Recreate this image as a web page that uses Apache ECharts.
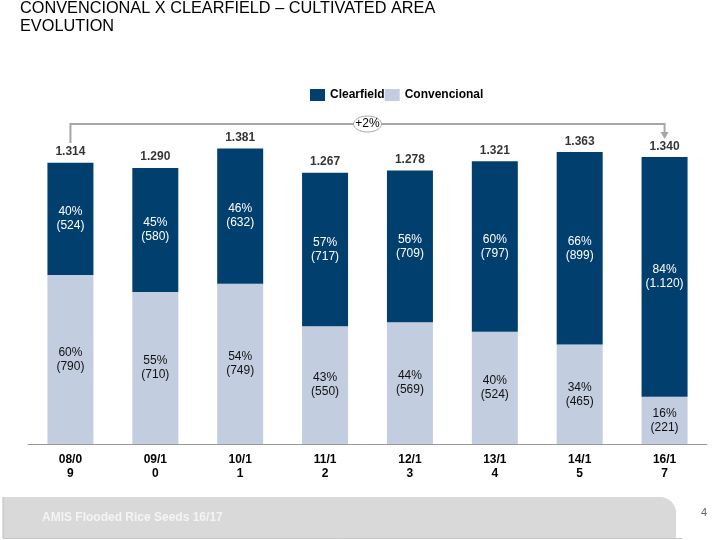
<!DOCTYPE html>
<html><head><meta charset="utf-8">
<script src="https://cdn.jsdelivr.net/npm/echarts@6/dist/echarts.min.js"></script>
<style>html,body{margin:0;padding:0;background:#fff}#c{width:720px;height:540px}</style>
</head><body><div id="c"></div>
<script>
const categories = ['08/09','09/10','10/11','11/12','12/13','13/14','14/15','16/17'];
const clearfield = [524,580,632,717,709,797,899,1120];
const convencional = [790,710,749,550,569,524,465,221];
const clearPct = [40,45,46,57,56,60,66,84];
const convPct = [60,55,54,43,44,40,34,16];
const totals = [1314,1290,1381,1267,1278,1321,1363,1340];
const growthLabel = '+2%';
const titleText = 'CONVENCIONAL X CLEARFIELD – CULTIVATED AREA\nEVOLUTION';
const footerText = 'AMIS Flooded Rice Seeds 16/17';
const pageNumber = '4';

const FONT = '"Liberation Sans", Arial, sans-serif';
const DARK = '#003f6e';
const LIGHT = '#c3cde0';
const fmt = n => String(n).replace(/\B(?=(\d{3})+(?!\d))/g, '.');

const chart = echarts.init(document.getElementById('c'), null, {renderer: 'canvas'});
chart.setOption({
  backgroundColor: '#fff',
  animation: false,
  title: {
    text: titleText, left: 20, top: 0, padding: 0,
    textStyle: {fontFamily: FONT, fontSize: 16.3, fontWeight: 'normal', color: '#000', lineHeight: 18}
  },
  legend: {
    data: ['Clearfield', 'Convencional'],
    left: 310, top: 89, padding: 0, itemGap: 0, itemWidth: 15, itemHeight: 12,
    icon: 'rect',
    textStyle: {fontFamily: FONT, fontSize: 12, fontWeight: 'bold', color: '#000'}
  },
  grid: {left: 28, right: 13, top: 16, bottom: 96},
  xAxis: {
    type: 'category', data: categories,
    axisLine: {lineStyle: {color: '#999', width: 1}},
    axisTick: {show: false},
    axisLabel: {
      margin: 9, fontFamily: FONT, fontSize: 12, fontWeight: 'bold', color: '#000', lineHeight: 14,
      formatter: v => v.slice(0, 4) + '\n' + v.slice(4)
    }
  },
  yAxis: {type: 'value', min: 0, max: 2000, show: false, splitLine: {show: false}},
  series: [
    {
      name: 'Convencional', type: 'bar', stack: 'a', barWidth: 46,
      data: convencional,
      itemStyle: {color: LIGHT},
      label: {
        show: true, position: 'inside', fontFamily: FONT, fontSize: 12, color: '#111', lineHeight: 14,
        formatter: p => convPct[p.dataIndex] + '%\n(' + fmt(p.value) + ')'
      }
    },
    {
      name: 'Clearfield', type: 'bar', stack: 'a', barWidth: 46,
      data: clearfield,
      itemStyle: {color: DARK},
      label: {
        show: true, position: 'inside', fontFamily: FONT, fontSize: 12, color: '#fff', lineHeight: 14,
        formatter: p => clearPct[p.dataIndex] + '%\n(' + fmt(p.value) + ')'
      }
    },
    {
      name: 'Total', type: 'scatter', data: totals, symbolSize: 0, silent: true,
      label: {
        show: true, position: 'top', distance: 5, fontFamily: FONT, fontSize: 12, fontWeight: 'bold', color: '#000',
        formatter: p => fmt(p.value)
      }
    }
  ]
});

// annotation bracket, positioned from the axis
const x0 = chart.convertToPixel({xAxisIndex: 0}, categories[0]);
const x1 = chart.convertToPixel({xAxisIndex: 0}, categories[categories.length - 1]);
const xm = (x0 + x1) / 2;
const yLine = 124;
const lineStyle = {stroke: '#a6a6a6', lineWidth: 2};
chart.setOption({
  graphic: [
    {type: 'polyline', shape: {points: [[x0, 143], [x0, yLine], [x1, yLine], [x1, 133]]}, style: Object.assign({fill: null}, lineStyle), silent: true},
    {type: 'polygon', shape: {points: [[x1 - 4, 132], [x1 + 4, 132], [x1, 139]]}, style: {fill: '#a6a6a6'}, silent: true},
    {type: 'ellipse', shape: {cx: xm, cy: yLine, rx: 14, ry: 8}, style: {fill: '#fff', stroke: '#aaa', lineWidth: 1}, silent: true},
    {type: 'text', x: xm, y: yLine, style: {text: growthLabel, font: '12px ' + FONT, fill: '#000', align: 'center', verticalAlign: 'middle'}, silent: true},
    {type: 'rect', shape: {x: 3, y: 497, width: 673, height: 41, r: [0, 16, 0, 0]}, style: {fill: '#d9d9d9'}, silent: true, z: -1},
    {type: 'line', shape: {x1: 3, y1: 497, x2: 3, y2: 538}, style: {stroke: '#bdbdbd', lineWidth: 1}, silent: true},
    {type: 'line', shape: {x1: 3, y1: 538.5, x2: 682, y2: 538.5}, style: {stroke: '#c8c8c8', lineWidth: 1}, silent: true},
    {type: 'text', x: 42, y: 518, style: {text: footerText, font: 'bold 12px ' + FONT, fill: '#f4f4f4', verticalAlign: 'middle'}, silent: true},
    {type: 'text', x: 701, y: 513, style: {text: pageNumber, font: '11px ' + FONT, fill: '#666', verticalAlign: 'middle'}, silent: true}
  ]
});
</script></body></html>
